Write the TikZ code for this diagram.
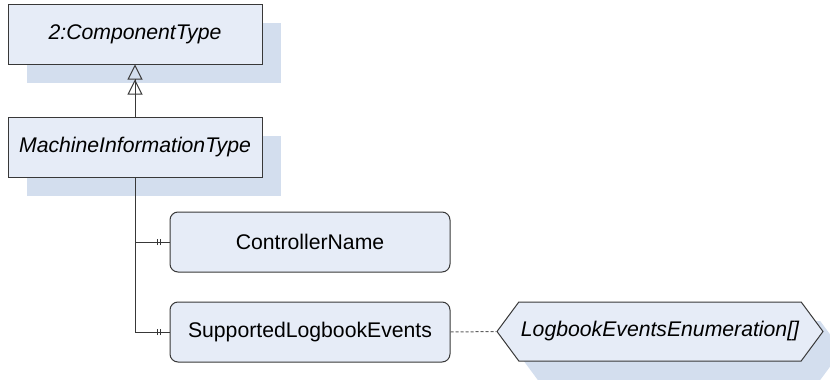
\documentclass[tikz,border=0pt]{standalone}
\usepackage{fontspec}
\setmainfont{Liberation Sans}
\usepackage{tikz}
\usetikzlibrary{arrows.meta,shapes.symbols,shadows,decorations.markings}

\definecolor{boxfill}{HTML}{E6ECF7}
\definecolor{shadowfill}{HTML}{D3DEEE}
\definecolor{edge}{HTML}{383838}

\begin{document}
\begin{tikzpicture}[
    x=0.5pt, y=-0.5pt,
    shade/.style={general shadow={fill=shadowfill, shadow xshift=9.5pt, shadow yshift=-9.5pt}},
    typebox/.style={draw=edge, fill=boxfill, line width=0.5pt, shade,
                    minimum width=127pt, minimum height=30pt, inner sep=0pt,
                    font=\fontsize{10.6}{12}\selectfont\itshape},
    attrbox/.style={draw=edge, fill=boxfill, line width=0.5pt, rounded corners=4pt,
                    minimum width=140pt, minimum height=30pt, inner sep=0pt,
                    font=\fontsize{10.6}{12}\selectfont},
    enumbox/.style={signal, signal to=west and east, signal pointer angle=107,
                    draw=edge, fill=boxfill, line width=0.5pt, shade,
                    minimum width=163pt, minimum height=29.5pt, inner sep=0pt,
                    font=\fontsize{10.6}{12}\selectfont\itshape},
    link/.style={draw=edge, line width=0.5pt},
    inherit/.style={link, -{Triangle[open,length=7.5pt,width=7.5pt] Triangle[open,length=7.5pt,width=7.5pt]}},
    mandatory/.style={link, postaction={decorate, decoration={markings,
        mark=at position -6pt with {\draw[edge, line width=0.5pt] (0,-1.6pt) -- (0,1.6pt);},
        mark=at position -4.3pt with {\draw[edge, line width=0.5pt] (0,-1.6pt) -- (0,1.6pt);}}}},
    ref/.style={draw=edge!80, line width=0.5pt, dash pattern=on 1.5pt off 1pt}
  ]
  \useasboundingbox (0,0) rectangle (830,380);
  % Types
  \node[typebox] (comp) at (135, 34) {2:ComponentType};
  \node[typebox] (mach) at (135,147) {MachineInformationType};
  % Children
  \node[attrbox] (ctrl) at (310,242) {ControllerName};
  \node[attrbox] (logb) at (310,332) {SupportedLogbookEvents};
  % Enumeration
  \node[enumbox] (enum) at (660,331.5) {LogbookEventsEnumeration[]};
  % Connectors
  \draw[inherit] (mach.north) -- (comp.south);
  \draw[mandatory] (mach.south) |- (ctrl.west);
  \draw[mandatory] (mach.south) |- (logb.west);
  \draw[ref] (logb.east) -- (enum.west);
\end{tikzpicture}
\end{document}
